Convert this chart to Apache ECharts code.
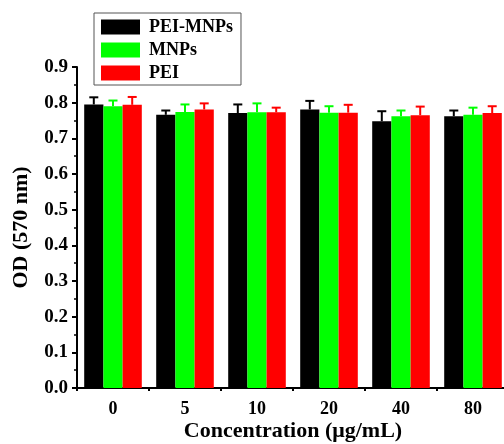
<!DOCTYPE html>
<html>
<head>
<meta charset="utf-8">
<script src="https://cdn.jsdelivr.net/npm/echarts@6/dist/echarts.min.js"></script>
<style>html,body{margin:0;padding:0;background:#fff}#c{width:504px;height:444px}</style>
</head>
<body>
<div id="c"></div>
<script>
var categories = ['0', '5', '10', '20', '40', '80'];
var seriesNames = ['PEI-MNPs', 'MNPs', 'PEI'];
var peiMnps = [0.795, 0.766, 0.771, 0.781, 0.748, 0.762];
var peiMnpsErr = [0.020, 0.012, 0.024, 0.024, 0.028, 0.016];
var mnps = [0.790, 0.774, 0.773, 0.772, 0.762, 0.766];
var mnpsErr = [0.016, 0.021, 0.025, 0.018, 0.016, 0.020];
var pei = [0.794, 0.781, 0.773, 0.772, 0.765, 0.771];
var peiErr = [0.022, 0.017, 0.013, 0.022, 0.024, 0.019];
var yTicks = [0, 0.1, 0.2, 0.3, 0.4, 0.5, 0.6, 0.7, 0.8, 0.9];

var colors = ['#000000', '#00ff00', '#ff0000'];
var values = [peiMnps, mnps, pei];
var errs = [peiMnpsErr, mnpsErr, peiErr];
var FONT = '"Liberation Serif", "Times New Roman", serif';
var catGap = 0.2;

function errSeries(k) {
  return {
    type: 'custom',
    name: seriesNames[k] + ' err',
    xAxisIndex: 0,
    z: 3,
    silent: true,
    data: values[k].map(function (v, i) { return [i, v, errs[k][i]]; }),
    encode: { x: 0, y: 1 },
    renderItem: function (params, api) {
      var i = api.value(0), v = api.value(1), e = api.value(2);
      var band = api.size([1, 0])[0];
      var bw = band * (1 - catGap) / 3;
      var base = api.coord([i, v]);
      var top = api.coord([i, v + e]);
      var x = base[0] + (k - 1) * bw;
      var style = { stroke: colors[k], lineWidth: 2 };
      return {
        type: 'group',
        children: [
          { type: 'line', shape: { x1: x, y1: base[1], x2: x, y2: top[1] }, style: style },
          { type: 'line', shape: { x1: x - 4.5, y1: top[1], x2: x + 4.5, y2: top[1] }, style: style }
        ]
      };
    }
  };
}

var series = [];
for (var k = 0; k < 3; k++) {
  series.push({
    type: 'bar',
    name: seriesNames[k],
    xAxisIndex: 0,
    data: values[k],
    barGap: '0%',
    barCategoryGap: (catGap * 100) + '%',
    itemStyle: { color: colors[k] },
    z: 2
  });
}
for (var k2 = 0; k2 < 3; k2++) series.push(errSeries(k2));

var chart = echarts.init(document.getElementById('c'), null, { renderer: 'canvas' });
chart.setOption({
  animation: false,
  backgroundColor: '#ffffff',
  grid: { left: 77, right: -5, top: 67, bottom: 56, containLabel: false, outerBoundsMode: 'none' },
  legend: {
    data: seriesNames,
    orient: 'vertical',
    left: 94,
    top: 13,
    itemWidth: 39,
    itemHeight: 15,
    itemGap: 5,
    padding: [5, 8, 3, 7],
    borderColor: '#555555',
    borderWidth: 1,
    icon: 'rect',
    textStyle: { fontFamily: FONT, fontWeight: 'bold', fontSize: 18, color: '#000', padding: [0, 0, 0, 4] }
  },
  xAxis: [
    {
      type: 'category',
      data: categories,
      name: 'Concentration (μg/mL)',
      nameLocation: 'middle',
      nameGap: 32,
      nameMoveOverlap: false,
      nameTextStyle: { fontFamily: FONT, fontWeight: 'bold', fontSize: 22, color: '#000' },
      axisLine: { lineStyle: { color: '#000', width: 2 } },
      axisTick: { alignWithLabel: true, inside: false, length: 5, lineStyle: { color: '#000', width: 2 } },
      axisLabel: { fontFamily: FONT, fontWeight: 'bold', fontSize: 18, color: '#000', margin: 12 },
      splitLine: { show: false }
    },
    {
      type: 'category',
      data: categories,
      position: 'bottom',
      axisLine: { show: false },
      axisTick: { show: true, length: 3, lineStyle: { color: '#000', width: 2 } },
      axisLabel: { show: false },
      splitLine: { show: false }
    }
  ],
  yAxis: {
    type: 'value',
    min: 0,
    max: 0.9,
    interval: 0.1,
    name: 'OD (570 nm)',
    nameLocation: 'middle',
    nameGap: 45,
    nameMoveOverlap: false,
    nameTextStyle: { fontFamily: FONT, fontWeight: 'bold', fontSize: 22, color: '#000' },
    axisLine: { show: true, lineStyle: { color: '#000', width: 2 } },
    axisTick: { show: true, length: 5, lineStyle: { color: '#000', width: 2 } },
    minorTick: { show: true, splitNumber: 2, length: 3, lineStyle: { color: '#000', width: 1.5 } },
    axisLabel: {
      fontFamily: FONT, fontWeight: 'bold', fontSize: 19, color: '#000', margin: 9,
      formatter: function (v) {
        for (var t = 0; t < yTicks.length; t++) if (Math.abs(yTicks[t] - v) < 1e-9) return yTicks[t].toFixed(1);
        return v.toFixed(1);
      }
    },
    splitLine: { show: false }
  },
  series: series
});
</script>
</body>
</html>
